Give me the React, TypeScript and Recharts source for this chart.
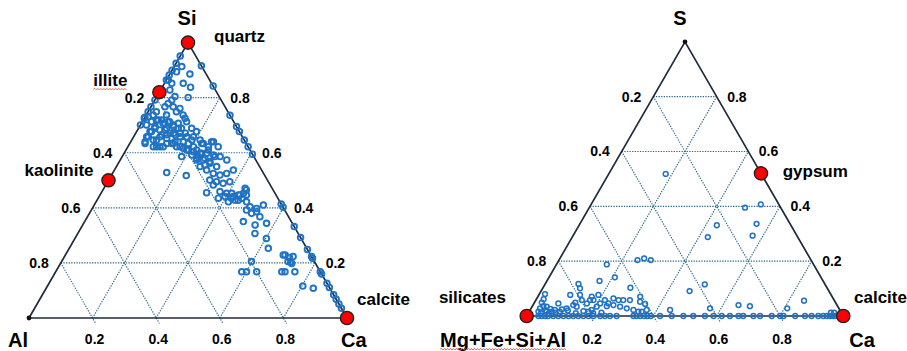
import React from "react";
import { ScatterChart, Scatter, XAxis, YAxis, ReferenceLine } from "recharts";

// ---------- values (ternary fractions) ----------
const tickValues = [0.2, 0.4, 0.6, 0.8];
const tickLabels = ["0.2", "0.4", "0.6", "0.8"];

// left diagram: Si (top) – Al (left) – Ca (right)
const siCorners = ["Si", "Al", "Ca"];
const siMinerals = ["quartz", "illite", "kaolinite", "calcite"];
const siMineralSi = [1, 0.82, 0.5, 0];
const siMineralCa = [0, 0, 0, 1];

// samples on the Al-Si edge (Ca = 0), Si fraction
const caFreeSi = [0.951, 0.925, 0.9, 0.882, 0.864, 0.81, 0.792, 0.767, 0.749, 0.729, 0.725, 0.701];

// samples on the Si-Ca edge (Al = 0), Si fraction
const alFreeSi = [
  0.916, 0.842, 0.736, 0.695, 0.677, 0.646, 0.622, 0.595, 0.414, 0.402, 0.332, 0.292,
  0.249, 0.223, 0.217, 0.168, 0.16, 0.126, 0.111, 0.084, 0.068, 0.051, 0.035,
];

// interior samples, [Si, Ca]
const siCaSamples: [number, number][] = [
  [0.913, 0.024], [0.894, 0.017], [0.886, 0.063], [0.864, 0.006], [0.852, 0.023], [0.852, 0.059],
  [0.838, 0.089], [0.828, 0.029], [0.801, 0.1], [0.804, 0.057], [0.792, 0.053], [0.779, 0.048],
  [0.767, 0.044], [0.767, 0.07], [0.761, 0.094], [0.749, 0.089], [0.737, 0.116], [0.725, 0.128],
  [0.737, 0.064], [0.749, 0.026], [0.737, 0.022], [0.731, 0.009], [0.701, 0.019], [0.713, 0.029],
  [0.719, 0.041], [0.719, 0.057], [0.707, 0.074], [0.713, 0.086], [0.701, 0.103], [0.707, 0.116],
  [0.713, 0.139], [0.689, 0.167], [0.677, 0.188], [0.689, 0.135], [0.689, 0.088], [0.683, 0.07],
  [0.689, 0.051], [0.677, 0.042], [0.658, 0.041], [0.634, 0.048], [0.646, 0.068], [0.658, 0.083],
  [0.665, 0.101], [0.671, 0.119], [0.671, 0.14], [0.658, 0.167], [0.658, 0.188], [0.646, 0.215],
  [0.634, 0.231], [0.622, 0.253], [0.64, 0.26], [0.622, 0.284], [0.634, 0.116], [0.634, 0.137],
  [0.622, 0.09], [0.622, 0.111], [0.622, 0.08], [0.622, 0.153], [0.616, 0.177], [0.61, 0.196],
  [0.604, 0.215], [0.598, 0.239], [0.598, 0.26], [0.592, 0.284], [0.586, 0.308], [0.574, 0.335],
  [0.586, 0.187], [0.58, 0.237], [0.574, 0.261], [0.562, 0.288], [0.55, 0.315], [0.55, 0.263],
  [0.537, 0.29], [0.525, 0.317], [0.519, 0.341], [0.525, 0.359], [0.537, 0.374], [0.528, 0.169],
  [0.517, 0.236], [0.501, 0.318], [0.495, 0.342], [0.489, 0.366], [0.495, 0.384], [0.483, 0.338],
  [0.455, 0.331], [0.459, 0.371], [0.453, 0.395], [0.441, 0.422], [0.447, 0.44], [0.465, 0.451],
  [0.447, 0.46], [0.428, 0.444], [0.435, 0.419], [0.392, 0.488], [0.38, 0.51], [0.386, 0.523],
  [0.41, 0.532], [0.35, 0.499], [0.338, 0.542], [0.368, 0.542], [0.344, 0.575], [0.307, 0.557],
  [0.289, 0.602], [0.253, 0.626], [0.205, 0.597], [0.168, 0.585], [0.168, 0.6], [0.168, 0.632],
  [0.229, 0.685], [0.223, 0.719], [0.205, 0.712], [0.198, 0.727], [0.168, 0.711], [0.168, 0.721],
  [0.168, 0.752], [0.116, 0.803], [0.108, 0.84],
  [0.719, 0.047], [0.707, 0.068], [0.713, 0.081], [0.695, 0.107], [0.689, 0.125], [0.683, 0.086],
  [0.671, 0.108], [0.665, 0.127], [0.658, 0.146], [0.671, 0.156], [0.64, 0.165], [0.634, 0.184],
  [0.622, 0.206], [0.646, 0.189], [0.61, 0.222], [0.598, 0.244], [0.586, 0.239], [0.58, 0.263],
  [0.64, 0.139], [0.622, 0.164], [0.61, 0.191], [0.592, 0.216], [0.665, 0.085], [0.652, 0.107],
  [0.634, 0.132], [0.695, 0.049], [0.677, 0.047], [0.658, 0.046], [0.64, 0.045], [0.646, 0.078],
  [0.622, 0.101], [0.556, 0.275], [0.568, 0.285], [0.574, 0.24], [0.634, 0.226], [0.61, 0.259],
  [0.586, 0.292], [0.64, 0.254],
  [0.471, 0.444], [0.453, 0.448], [0.447, 0.435], [0.453, 0.411], [0.441, 0.396], [0.435, 0.378],
  [0.422, 0.416], [0.428, 0.434], [0.435, 0.452], [0.422, 0.473], [0.404, 0.493], [0.398, 0.517],
  [0.229, 0.691], [0.22, 0.709], [0.204, 0.721],
];

// right diagram: S (top) – Mg+Fe+Si+Al (left) – Ca (right)
const sCorners = ["S", "Mg+Fe+Si+Al", "Ca"];
const sMinerals = ["silicates", "gypsum", "calcite"];
const sMineralS = [0, 0.52, 0];
const sMineralCa = [0, 0.48, 1];

// samples on the base (S = 0), Ca fraction
const sFreeCa = [
  0.037, 0.047, 0.058, 0.068, 0.084, 0.1, 0.116, 0.132, 0.147, 0.163, 0.179, 0.195, 0.211,
  0.232, 0.247, 0.263, 0.284, 0.337, 0.347, 0.358, 0.371, 0.381, 0.392, 0.421, 0.458, 0.495,
  0.526, 0.563, 0.59, 0.616, 0.642, 0.669, 0.684, 0.716, 0.737, 0.774, 0.8, 0.811, 0.848,
  0.879, 0.9, 0.921, 0.937, 0.948, 0.958, 0.967, 0.974,
];

// interior samples, [S, Ca]
const sCaSamples: [number, number][] = [
  [0.518, 0.18], [0.395, 0.492], [0.407, 0.536], [0.336, 0.558], [0.293, 0.567], [0.331, 0.435],
  [0.288, 0.428], [0.204, 0.248], [0.21, 0.266], [0.204, 0.29], [0.188, 0.159], [0.141, 0.208],
  [0.128, 0.166], [0.117, 0.105], [0.101, 0.118], [0.103, 0.276], [0.091, 0.469], [0.115, 0.505],
  [0.028, 0.565], [0.04, 0.649], [0.036, 0.687], [0.028, 0.809], [0.056, 0.848], [0.022, 0.442],
  [0.08, 0.018], [0.061, 0.023], [0.046, 0.077], [0.024, 0.099], [0.077, 0.099], [0.049, 0.129],
  [0.04, 0.127], [0.034, 0.141], [0.077, 0.13], [0.058, 0.145], [0.028, 0.112], [0.046, 0.167],
  [0.058, 0.171], [0.058, 0.182], [0.071, 0.17], [0.077, 0.188], [0.034, 0.204], [0.022, 0.194],
  [0.016, 0.187], [0.046, 0.209], [0.058, 0.218], [0.046, 0.235], [0.036, 0.235], [0.064, 0.242],
  [0.058, 0.261], [0.058, 0.276], [0.058, 0.297], [0.04, 0.254], [0.034, 0.278], [0.028, 0.302],
  [0.071, 0.323], [0.052, 0.332], [0.044, 0.352], [0.022, 0.368], [0.022, 0.326], [0.016, 0.345],
  [0.016, 0.355], [0.016, 0.071], [0.022, 0.078], [0.016, 0.097], [0.028, 0.028], [0.036, 0.035],
  [0.034, 0.046], [0.016, 0.029], [0.016, 0.055], [0.049, 0.023], [0.012, 0.955], [0.012, 0.965],
  [0.01, 0.04], [0.01, 0.065], [0.012, 0.085], [0.02, 0.12], [0.01, 0.15], [0.018, 0.17],
  [0.01, 0.205], [0.012, 0.23], [0.02, 0.05], [0.026, 0.062],
];

// ---------- layout ----------
const W = 907;
const H = 351;
const SIDE = 318; // px per unit side of the left triangle
const X_DOMAIN: [number, number] = [-29 / SIDE, (W - 29) / SIDE];
const Y_DOMAIN: [number, number] = [-(H - 318) / SIDE, 318 / SIDE];
const H3 = Math.sqrt(3) / 2;

type Frame = { ox: number; oy: number; k: number; bottomDy: number };
const LEFT: Frame = { ox: 0, oy: 0, k: 1, bottomDy: 25.5 };
const RIGHT: Frame = { ox: 1.5651, oy: 0.0063, k: 0.9956, bottomDy: 28 };

const pt = (f: Frame, top: number, right: number) => ({
  x: f.ox + f.k * (right + top / 2),
  y: f.oy + f.k * top * H3,
});

const FONT = "'Liberation Sans', Arial, Helvetica, sans-serif";
const BLUE = "#1f72c4";
const EDGE = "#1e2b3a";
const GRID = "#2c6788";

// wavy = width in px of the red spell-check squiggle drawn under the word
type Lbl = { x: number; y: number; text: string; dx: number; dy: number; anchor: string; size: number; wavy: number };

const lbl = (f: Frame, top: number, right: number, text: string, dx: number, dy: number, anchor: string, size: number, wavy = 0): Lbl => ({
  ...pt(f, top, right), text, dx, dy, anchor, size, wavy,
});

function gridSegments(f: Frame) {
  const segs: { x: number; y: number }[][] = [];
  tickValues.forEach((t) => {
    segs.push([pt(f, t, 0), pt(f, t, 1 - t)]); // constant top
    segs.push([pt(f, 0, t), pt(f, 1 - t, t)]); // constant right
    segs.push([pt(f, 1 - t, 0), pt(f, -0.02, 1 - t + 0.02)]); // constant left
  });
  return segs;
}

function tickLbls(f: Frame): Lbl[] {
  const out: Lbl[] = [];
  tickValues.forEach((t, i) => {
    out.push(lbl(f, 1 - t, 0, tickLabels[i], -12, 5, "end", 14));
    out.push(lbl(f, t, 1 - t, tickLabels[i], 10.5, 5, "start", 14));
    out.push(lbl(f, 0, t, tickLabels[i], 2, f.bottomDy, "middle", 14));
  });
  return out;
}

const outline = (f: Frame) => [pt(f, 1, 0), pt(f, 0, 0), pt(f, 0, 1), pt(f, 1, 0)];

function squiggle(x0: number, x1: number, y: number) {
  let d = `M${x0},${y}`;
  let up = true;
  for (let x = x0 + 1.5; x <= x1; x += 1.5) {
    d += ` L${x},${y + (up ? -0.8 : 0.8)}`;
    up = !up;
  }
  return d;
}

// ---------- chart data built from the arrays ----------
const leftSamples = [
  ...siCaSamples.map(([si, ca]) => pt(LEFT, si, ca)),
  ...caFreeSi.map((si) => pt(LEFT, si, 0)),
  ...alFreeSi.map((si) => pt(LEFT, si, 1 - si)),
];
const rightSamples = [
  ...sCaSamples.map(([s, ca]) => pt(RIGHT, s, ca)),
  ...sFreeCa.map((ca) => pt(RIGHT, 0, ca)),
];
const redMarkers = [
  ...siMineralSi.map((si, i) => pt(LEFT, si, siMineralCa[i])),
  ...sMineralS.map((s, i) => pt(RIGHT, s, sMineralCa[i])),
];
const blackDots = [pt(LEFT, 0, 0), pt(RIGHT, 1, 0)];

const textLabels: Lbl[] = [
  ...tickLbls(LEFT),
  ...tickLbls(RIGHT),
  lbl(LEFT, 1, 0, siCorners[0], -1, -17.6, "middle", 20),
  lbl(LEFT, 0, 0, siCorners[1], -21, 29, "start", 20),
  lbl(LEFT, 0, 1, siCorners[2], -6, 29, "start", 20),
  lbl(LEFT, siMineralSi[0], siMineralCa[0], siMinerals[0], 26, -1, "start", 17),
  lbl(LEFT, siMineralSi[1], siMineralCa[1], siMinerals[1], -32, -6.5, "end", 17, 34),
  lbl(LEFT, siMineralSi[2], siMineralCa[2], siMinerals[2], -15, -4, "end", 17),
  lbl(LEFT, siMineralSi[3], siMineralCa[3], siMinerals[3], 10, -13, "start", 17),
  lbl(RIGHT, 1, 0, sCorners[0], -5, -16.7, "middle", 20),
  lbl(RIGHT, 0, 0, sCorners[1], -86.7, 31, "start", 20, 126),
  lbl(RIGHT, 0, 1, sCorners[2], 6, 31, "start", 20),
  lbl(RIGHT, sMineralS[0], sMineralCa[0], sMinerals[0], -20.7, -13, "end", 17),
  lbl(RIGHT, sMineralS[1], sMineralCa[1], sMinerals[1], 21.7, 4, "start", 17),
  lbl(RIGHT, sMineralS[2], sMineralCa[2], sMinerals[2], 10.7, -12.5, "start", 17),
];

const grid = [...gridSegments(LEFT), ...gridSegments(RIGHT)];

export default function App() {
  return (
    <div style={{ position: "absolute", left: 0, top: 0, width: W, height: H, background: "#fff" }}>
      <ScatterChart width={W} height={H} margin={{ top: 0, right: 0, bottom: 0, left: 0 }}>
        <XAxis type="number" dataKey="x" domain={X_DOMAIN} hide allowDataOverflow />
        <YAxis type="number" dataKey="y" domain={Y_DOMAIN} hide allowDataOverflow />
        {grid.map((s, i) => (
          <ReferenceLine
            key={`g${i}`}
            segment={s}
            stroke={GRID}
            strokeWidth={1.2}
            strokeDasharray="1.3 1.3"
            ifOverflow="visible"
          />
        ))}
        {[LEFT, RIGHT].map((f, i) => (
          <Scatter
            key={`o${i}`}
            data={outline(f)}
            line={{ stroke: EDGE, strokeWidth: 1.7 }}
            shape={() => <g />}
            isAnimationActive={false}
          />
        ))}
        <Scatter
          data={leftSamples}
          isAnimationActive={false}
          shape={(p: any) => <circle cx={p.cx} cy={p.cy} r={2.8} fill="none" stroke={BLUE} strokeWidth={1.9} />}
        />
        <Scatter
          data={rightSamples}
          isAnimationActive={false}
          shape={(p: any) => <circle cx={p.cx} cy={p.cy} r={2.4} fill="none" stroke={BLUE} strokeWidth={1.5} />}
        />
        <Scatter
          data={blackDots}
          isAnimationActive={false}
          shape={(p: any) => <circle cx={p.cx} cy={p.cy} r={2.4} fill="#111" />}
        />
        <Scatter
          data={redMarkers}
          isAnimationActive={false}
          shape={(p: any) => <circle cx={p.cx} cy={p.cy} r={6.6} fill="#ff0000" stroke="#222" strokeWidth={1.4} />}
        />
        <Scatter
          data={textLabels}
          isAnimationActive={false}
          shape={(p: any) => {
            const d: Lbl = p.payload;
            const x = p.cx + d.dx;
            const y = p.cy + d.dy;
            const x0 = d.anchor === "end" ? x - d.wavy : x;
            return (
              <g>
                <text
                  x={x}
                  y={y}
                  textAnchor={d.anchor as any}
                  fontSize={d.size}
                  fontWeight="bold"
                  fontFamily={FONT}
                  fill="#000"
                >
                  {d.text}
                </text>
                {d.wavy > 0 && (
                  <path d={squiggle(x0, x0 + d.wavy, y + (d.size > 18 ? 2.2 : 3.5))} fill="none" stroke="#e04545" strokeWidth={0.8} />
                )}
              </g>
            );
          }}
        />
      </ScatterChart>
    </div>
  );
}
